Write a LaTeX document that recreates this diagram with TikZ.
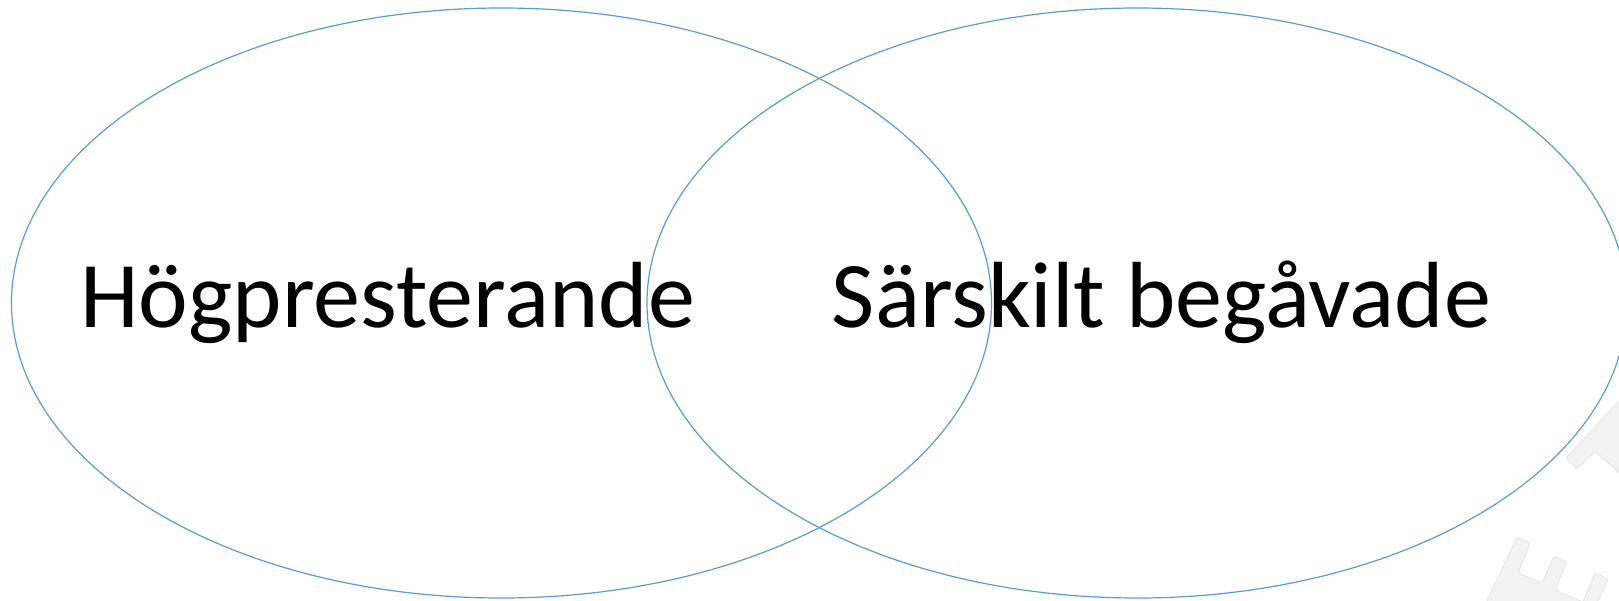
\documentclass[tikz,border=0pt]{standalone}
\usepackage{fontspec}
\setmainfont{Carlito}
\usetikzlibrary{shapes.geometric}
\definecolor{vennblue}{HTML}{5B9BD5}
\definecolor{wmfill}{HTML}{F2F2F2}
\definecolor{wmline}{HTML}{E4E4E4}
\begin{document}
\begin{tikzpicture}[x=1pt,y=-1pt,
  venn/.style={draw=vennblue,line width=1.2pt,ellipse,inner sep=0pt,outer sep=0pt,minimum width=980pt,minimum height=590pt},
  lbl/.style={inner sep=0pt,anchor=base,font=\fontsize{94}{100}\selectfont},
  wm/.style={fill=wmfill,draw=wmline,line width=0.8pt,rounded corners=2pt}]
\useasboundingbox (0,0) rectangle (1619,600);
\begin{scope}
\clip (0,0) rectangle (1619,600);
\draw[wm] (1640,378) -- (1566,458) -- (1577,469) -- (1595,451) -- (1640,492) -- cycle;
\draw[wm] (1478,620) -- (1517,537) -- (1530,543) -- (1518,573) -- (1542,583) -- (1554,556) -- (1567,562) -- (1555,590) -- (1583,602) -- (1595,573) -- (1608,579) -- (1590,620) -- cycle;
\node[venn] (L) at (501.5,303) {};
\node[venn] (R) at (1137,303) {};
\end{scope}
\node[lbl] (a) at (387.5,327) {Högpresterande};
\node[lbl] (b) at (1161.5,327) {Särskilt begåvade};
\end{tikzpicture}
\end{document}
